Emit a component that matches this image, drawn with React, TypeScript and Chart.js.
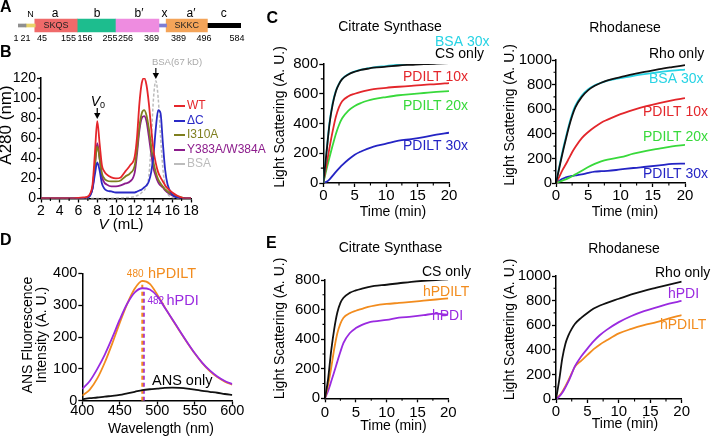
import React, { useEffect, useRef } from 'react';
import { Chart, registerables } from 'chart.js';

Chart.register(...registerables);

const W = 713;
const H = 436;
const FONT = '"Liberation Sans", Arial, Helvetica, sans-serif';

// ---------------- Panel A: domain map ----------------
const domainNames = ['signal', 'N', 'a', 'b', 'b′', 'x', 'a′', 'c'];
const domainStart = [1, 21, 45, 156, 256, 369, 389, 496];
const domainEnd = [21, 45, 155, 255, 369, 389, 496, 584];
const domainMotif = ['', '', 'SKQS', '', '', '', 'SKKC', ''];
const domainKind = ['thin', 'thin', 'box', 'box', 'box', 'thin', 'box', 'tail'];
const domainColors = ['#8f8f8f', '#e8d46a', '#ef6a6a', '#1dbd8e', '#ee8ce0', '#7d7dd4', '#f4a459', '#000000'];
const residueTicks = [1, 21, 45, 155, 156, 255, 256, 369, 389, 496, 584];
const residueLabelX = [16, 25.5, 42, 68.5, 85, 110, 125.5, 151.5, 178.5, 204, 237];

// ---------------- Panel B: gel filtration ----------------
const elutionVolume = [2, 3, 4, 5, 6, 6.5, 7, 7.25, 7.5, 7.75, 8, 8.25, 8.5, 8.75, 9, 9.5, 10, 10.5, 11, 11.5, 12, 12.25, 12.5, 12.75, 13, 13.25, 13.5, 13.75, 14, 14.25, 14.5, 14.75, 15, 15.25, 15.5, 16, 16.5, 17, 17.5, 18];
const wtA280 = [0, 0, 0, 0, 0.5, 1, 2, 5, 14, 45, 77, 55, 33, 27, 24, 21, 20, 21, 27, 33, 42, 62, 95, 115, 120, 113, 95, 70, 48, 35, 26, 21, 17, 13, 10, 6, 3, 1, 0, 0];
const dCA280 = [0, 0, 0, 0, 0, 0.5, 1, 3, 10, 24, 36, 28, 15, 10, 8, 7, 6, 6, 6, 6, 6, 7, 8, 9, 11, 13, 17, 26, 43, 70, 88, 85, 55, 28, 14, 4, 1, 0.5, 0, 0];
const i310aA280 = [0, 0, 0, 0, 0, 0.5, 1.5, 4, 11, 33, 52, 40, 25, 20, 18, 17, 17, 18, 22, 25, 33, 50, 72, 85, 88, 83, 70, 52, 36, 26, 19, 15, 12, 9, 7, 4, 2, 1, 0, 0];
const y383aA280 = [0, 0, 0, 0, 0, 0.5, 1.5, 4, 10, 33, 55, 40, 22, 16, 14, 12, 12, 13, 15, 17, 26, 45, 68, 80, 82, 77, 62, 45, 30, 22, 16, 13, 11, 8, 6, 3, 1.5, 0.5, 0, 0];
const bsaA280 = [0, 0, 0, 0, 0, 0, 0, 0, 0, 0, 0, 0, 0, 0, 0, 0.2, 0.3, 0.5, 0.8, 1.2, 2, 3, 4, 6, 8, 12, 22, 55, 100, 117, 100, 62, 30, 12, 5, 1, 0.3, 0, 0, 0];
const bLegend = ['WT', 'ΔC', 'I310A', 'Y383A/W384A', 'BSA'];
const bColors = ['#e5262b', '#2a2ac6', '#7f7f1f', '#8c1c8c', '#bcbcbc'];
const voidVolume = 8;
const bsaPeakVolume = 14.25;

// ---------------- Panels C & E: aggregation kinetics ----------------
const timeMin = [0, 0.5, 1, 1.5, 2, 2.5, 3, 4, 5, 6, 7, 8, 10, 12, 14, 16, 18, 20];
const csOnlyC = [0, 200, 400, 530, 615, 665, 698, 730, 748, 760, 768, 775, 782, 790, 795, 800, 803, 806];
const csBsa30C = [0, 205, 410, 540, 620, 668, 700, 733, 750, 762, 771, 778, 786, 795, 801, 806, 810, 814];
const csPdilt10 = [0, 120, 240, 350, 445, 510, 550, 583, 600, 613, 623, 631, 640, 647, 653, 660, 665, 672];
const csPdilt20 = [0, 90, 175, 255, 330, 390, 435, 487, 518, 538, 553, 564, 578, 590, 598, 605, 612, 618];
const csPdilt30 = [0, 8, 25, 50, 75, 98, 120, 158, 190, 212, 230, 245, 265, 285, 295, 308, 325, 338];

const rhoOnlyC = [0, 120, 240, 350, 455, 545, 615, 700, 755, 790, 815, 835, 860, 885, 905, 925, 942, 958];
const rhoBsa30C = [0, 130, 255, 365, 470, 560, 628, 710, 762, 795, 815, 832, 852, 872, 888, 902, 913, 922];
const rhoPdilt10 = [0, 50, 105, 150, 200, 250, 293, 365, 415, 455, 490, 515, 560, 595, 625, 650, 672, 690];
const rhoPdilt20 = [0, 10, 20, 30, 42, 55, 70, 100, 130, 155, 175, 190, 210, 238, 262, 280, 297, 310];
const rhoPdilt30 = [0, 18, 35, 45, 52, 58, 62, 70, 82, 92, 96, 98, 110, 122, 132, 143, 155, 158];

const csOnlyE = [0, 130, 320, 470, 580, 645, 680, 713, 730, 742, 752, 760, 768, 778, 788, 795, 800, 805];
const csHpdiltE = [0, 90, 205, 335, 440, 505, 545, 575, 592, 605, 618, 627, 638, 645, 652, 660, 668, 676];
const csHpdiE = [0, 50, 113, 180, 248, 315, 375, 440, 475, 497, 512, 520, 530, 545, 552, 562, 573, 565];

const rhoOnlyE = [0, 150, 330, 450, 520, 570, 610, 660, 700, 735, 760, 780, 815, 850, 880, 905, 930, 955];
const rhoHpdiE = [0, 20, 50, 95, 145, 205, 265, 345, 410, 470, 520, 560, 625, 675, 715, 745, 775, 797];
const rhoHpdiltE = [0, 25, 60, 105, 155, 210, 263, 310, 358, 405, 444, 475, 534, 570, 600, 625, 655, 682];

// ---------------- Panel D: ANS fluorescence ----------------
const wavelengthNm = [400, 410, 420, 430, 440, 450, 460, 470, 480, 490, 500, 510, 520, 530, 540, 550, 560, 570, 580, 590, 600];
const ansHpdilt = [16, 35, 70, 120, 180, 245, 305, 352, 376, 367, 333, 293, 255, 218, 182, 148, 118, 93, 74, 60, 50];
const ansHpdi = [37, 62, 100, 145, 198, 255, 305, 340, 353, 349, 328, 292, 256, 219, 183, 149, 119, 95, 76, 62, 52];
const ansOnly = [5, 8, 10, 13, 15, 18, 23, 28, 33, 36, 38, 40, 41, 40, 38, 35, 31, 28, 25, 21, 18];
const hpdiltPeakNm = 480;
const hpdiPeakNm = 482;

// ---------------- colours ----------------
const CYAN = '#27d3e4';
const RED = '#e3262b';
const GREEN = '#38d93b';
const BLUE = '#2424c4';
const ORANGE = '#f28c1e';
const PURPLE = '#9a2ae0';

// ---------------- helpers ----------------
type Txt = { t: string; x?: number; xv?: number; y: number; c?: string; s?: number; b?: boolean; i?: boolean; a?: string; r?: boolean };

function textLayer(items: Txt[]) {
  return {
    id: 'textLayer',
    afterDraw(chart: any) {
      const ctx = chart.ctx;
      for (const it of items) {
        ctx.save();
        ctx.font = `${it.i ? 'italic ' : ''}${it.b ? 'bold ' : ''}${it.s ?? 14}px ${FONT}`;
        ctx.fillStyle = it.c ?? '#000';
        ctx.textAlign = (it.a ?? 'center') as CanvasTextAlign;
        ctx.textBaseline = 'middle';
        const x = it.xv !== undefined ? chart.scales.x.getPixelForValue(it.xv) : (it.x as number);
        if (it.r) {
          ctx.translate(x, it.y);
          ctx.rotate(-Math.PI / 2);
          ctx.fillText(it.t, 0, 0);
        } else {
          ctx.fillText(it.t, x, it.y);
        }
        ctx.restore();
      }
    },
  };
}

function minorLayer(xs: number[], ys: number[]) {
  return {
    id: 'minorLayer',
    afterDraw(chart: any) {
      const { ctx, chartArea, scales } = chart;
      ctx.save();
      ctx.strokeStyle = '#000';
      ctx.lineWidth = 1.1;
      ctx.beginPath();
      for (const v of xs) {
        const px = scales.x.getPixelForValue(v);
        ctx.moveTo(px, chartArea.bottom);
        ctx.lineTo(px, chartArea.bottom + 2.5);
      }
      for (const v of ys) {
        const py = scales.y.getPixelForValue(v);
        ctx.moveTo(chartArea.left, py);
        ctx.lineTo(chartArea.left - 2.5, py);
      }
      ctx.stroke();
      ctx.restore();
    },
  };
}

function arrowDown(ctx: any, x: number, yTop: number, yTip: number) {
  ctx.strokeStyle = '#000';
  ctx.fillStyle = '#000';
  ctx.lineWidth = 1.2;
  ctx.beginPath();
  ctx.moveTo(x, yTop);
  ctx.lineTo(x, yTip - 5);
  ctx.stroke();
  ctx.beginPath();
  ctx.moveTo(x - 3.2, yTip - 6);
  ctx.lineTo(x + 3.2, yTip - 6);
  ctx.lineTo(x, yTip);
  ctx.closePath();
  ctx.fill();
}

function bExtras() {
  const legendY = [106, 121, 135, 150, 164];
  return {
    id: 'bExtras',
    afterDraw(chart: any) {
      const { ctx } = chart;
      const xs = chart.scales.x;
      ctx.save();
      arrowDown(ctx, xs.getPixelForValue(voidVolume), 108, 119);
      arrowDown(ctx, xs.getPixelForValue(bsaPeakVolume), 68, 79);
      bLegend.forEach((_, i) => {
        ctx.strokeStyle = bColors[i];
        ctx.lineWidth = 2;
        ctx.beginPath();
        ctx.moveTo(174, legendY[i]);
        ctx.lineTo(185, legendY[i]);
        ctx.stroke();
      });
      ctx.restore();
    },
  };
}

function pad(l: number, t: number, r: number, b: number, yw: number, xh: number) {
  return { left: l - yw, top: t, right: W - r, bottom: H - b - xh };
}

function linAxes(x: number[], y: number[], fs: number, xpad: number, ypad: number, yw: number, xh: number) {
  const mk = (min: number, max: number, step: number, p: number, fit: any) => ({
    type: 'linear',
    min,
    max,
    ticks: {
      stepSize: step,
      autoSkip: false,
      maxRotation: 0,
      padding: p,
      color: '#000',
      font: { family: FONT, size: fs },
      callback: (v: any) => String(v),
    },
    grid: { display: true, drawOnChartArea: false, drawTicks: true, tickLength: 4, tickWidth: 1.3, color: '#000' },
    border: { display: true, color: '#000', width: 1.5 },
    afterFit: fit,
  });
  return {
    x: mk(x[0], x[1], x[2], xpad, (s: any) => { s.height = xh; }),
    y: mk(y[0], y[1], y[2], ypad, (s: any) => { s.width = yw; }),
  };
}

function series(xs: number[], ys: number[]) {
  return xs.map((x, i) => ({ x, y: ys[i] }));
}

function line(label: string, xs: number[], ys: number[], color: string, extra: any = {}) {
  return {
    label,
    data: series(xs, ys),
    borderColor: color,
    backgroundColor: color,
    borderWidth: 1.8,
    pointRadius: 0,
    cubicInterpolationMode: 'monotone',
    fill: false,
    ...extra,
  };
}

function lineConfig(datasets: any[], padding: any, scales: any, plugins: any[]) {
  return {
    type: 'line',
    data: { datasets },
    options: {
      animation: false,
      responsive: false,
      events: [],
      layout: { padding },
      scales,
      plugins: { legend: { display: false }, tooltip: { enabled: false } },
    },
    plugins,
  };
}

const kindThickness: Record<string, number> = { thin: 3, box: 13, tail: 4.5 };

function buildConfigs() {
  // ---------- A ----------
  const aTexts: Txt[] = [
    { t: 'A', x: 0, y: 8, b: true, s: 16, a: 'left' },
    { t: 'N', x: 30.5, y: 14.5, s: 9 },
    { t: 'a', x: 55, y: 13.5, s: 12 },
    { t: 'b', x: 97, y: 13.5, s: 12 },
    { t: 'b′', x: 139, y: 13.5, s: 12 },
    { t: 'x', x: 164.5, y: 13.5, s: 12 },
    { t: 'a′', x: 191, y: 13.5, s: 12 },
    { t: 'c', x: 223.7, y: 13.5, s: 12 },
  ];
  domainMotif.forEach((m, i) => {
    if (m) aTexts.push({ t: m, xv: (domainStart[i] + domainEnd[i]) / 2, y: 25.8, s: 9, c: '#222' });
  });
  residueTicks.forEach((r, i) => {
    aTexts.push({ t: String(r), x: residueLabelX[i], y: 38.5, s: 9 });
  });
  const aConfig = {
    type: 'bar',
    data: {
      labels: ['hPDILT'],
      datasets: domainStart.map((s, i) => ({
        label: domainNames[i],
        data: [[s - 0.5, domainEnd[i] + 0.5]],
        backgroundColor: domainColors[i],
        barThickness: kindThickness[domainKind[i]],
        grouped: false,
        borderWidth: 0,
        borderSkipped: false,
      })),
    },
    options: {
      indexAxis: 'y',
      animation: false,
      responsive: false,
      events: [],
      layout: { padding: { left: 18, right: W - 241, top: 15, bottom: H - 36 } },
      scales: { x: { type: 'linear', min: 0.5, max: 584.5, display: false }, y: { type: 'category', display: false } },
      plugins: { legend: { display: false }, tooltip: { enabled: false } },
    },
    plugins: [textLayer(aTexts)],
  };

  // ---------- B ----------
  const bTexts: Txt[] = [
    { t: 'B', x: 0, y: 52.5, b: true, s: 16, a: 'left' },
    { t: 'A280 (nm)', x: 6.5, y: 125, r: true, s: 17 },
    { t: 'V', x: 108.5, y: 225, s: 15, i: true, a: 'right' },
    { t: ' (mL)', x: 108.5, y: 225, s: 15, a: 'left' },
    { t: 'V', x: 95.5, y: 102, s: 14, i: true },
    { t: '0', x: 100, y: 106, s: 9, a: 'left' },
    { t: 'BSA(67 kD)', x: 177, y: 62, s: 9.5, c: '#a9a9a9' },
  ];
  bLegend.forEach((n, i) => bTexts.push({ t: n, x: 187, y: [106, 121, 135, 150, 164][i], s: 12, c: bColors[i], a: 'left' }));
  const bConfig = lineConfig(
    [
      line('WT', elutionVolume, wtA280, bColors[0]),
      line('ΔC', elutionVolume, dCA280, bColors[1]),
      line('I310A', elutionVolume, i310aA280, bColors[2]),
      line('Y383A/W384A', elutionVolume, y383aA280, bColors[3]),
      line('BSA', elutionVolume, bsaA280, bColors[4], { borderDash: [3, 2], borderWidth: 1.5 }),
    ],
    pad(41, 78, 191, 198.5, 40, 28),
    linAxes([2, 18, 2], [0, 120, 20], 14, 0, 1, 40, 28),
    [textLayer(bTexts), minorLayer([3, 5, 7, 9, 11, 13, 15, 17], [10, 30, 50, 70, 90, 110]), bExtras()],
  );

  // ---------- C left ----------
  const c1Texts: Txt[] = [
    { t: 'C', x: 266.5, y: 19, b: true, s: 16, a: 'left' },
    { t: 'Citrate Synthase', x: 390, y: 27.5, s: 14 },
    { t: 'Light Scattering (A. U.)', x: 280, y: 117, r: true, s: 14 },
    { t: 'Time (min)', x: 393, y: 212, s: 14 },
    { t: 'BSA 30x', x: 435, y: 42.5, s: 14, c: CYAN, a: 'left' },
    { t: 'CS only', x: 435, y: 54.5, s: 14, a: 'left' },
    { t: 'PDILT 10x', x: 403, y: 77.5, s: 14, c: RED, a: 'left' },
    { t: 'PDILT 20x', x: 403, y: 106, s: 14, c: GREEN, a: 'left' },
    { t: 'PDILT 30x', x: 403, y: 146, s: 14, c: BLUE, a: 'left' },
  ];
  const c1Config = lineConfig(
    [
      line('CS only', timeMin, csOnlyC, '#111'),
      line('BSA 30x', timeMin, csBsa30C, CYAN),
      line('PDILT 10x', timeMin, csPdilt10, RED),
      line('PDILT 20x', timeMin, csPdilt20, GREEN),
      line('PDILT 30x', timeMin, csPdilt30, BLUE),
    ],
    pad(323.3, 64, 449, 183, 40, 28),
    linAxes([0, 20, 5], [0, 800, 200], 15, 0, 1, 40, 28),
    [textLayer(c1Texts), minorLayer([2.5, 7.5, 12.5, 17.5], [100, 300, 500, 700])],
  );

  // ---------- C right ----------
  const c2Texts: Txt[] = [
    { t: 'Rhodanese', x: 625, y: 28, s: 14 },
    { t: 'Light Scattering (A. U.)', x: 510, y: 115, r: true, s: 14 },
    { t: 'Time (min)', x: 625, y: 212, s: 14 },
    { t: 'Rho only', x: 649, y: 54, s: 14, a: 'left' },
    { t: 'BSA 30x', x: 649, y: 79.5, s: 14, c: CYAN, a: 'left' },
    { t: 'PDILT 10x', x: 643, y: 112.5, s: 14, c: RED, a: 'left' },
    { t: 'PDILT 20x', x: 643, y: 137.5, s: 14, c: GREEN, a: 'left' },
    { t: 'PDILT 30x', x: 643, y: 174, s: 14, c: BLUE, a: 'left' },
  ];
  const c2Config = lineConfig(
    [
      line('Rho only', timeMin, rhoOnlyC, '#111'),
      line('BSA 30x', timeMin, rhoBsa30C, CYAN),
      line('PDILT 10x', timeMin, rhoPdilt10, RED),
      line('PDILT 20x', timeMin, rhoPdilt20, GREEN),
      line('PDILT 30x', timeMin, rhoPdilt30, BLUE),
    ],
    pad(556, 60, 685, 183, 40, 28),
    linAxes([0, 20, 5], [0, 1000, 200], 15, 0, 0, 40, 28),
    [textLayer(c2Texts), minorLayer([2.5, 7.5, 12.5, 17.5], [100, 300, 500, 700, 900])],
  );

  // ---------- D ----------
  const dTexts: Txt[] = [
    { t: 'D', x: 0, y: 241, b: true, s: 16, a: 'left' },
    { t: 'ANS Fluorescence', x: 28, y: 335, r: true, s: 14 },
    { t: 'Intensity (A. U.)', x: 42.5, y: 335, r: true, s: 14 },
    { t: 'Wavelength (nm)', x: 161, y: 429, s: 14 },
    { t: String(hpdiltPeakNm), x: 143.5, y: 274, s: 10, c: ORANGE, a: 'right' },
    { t: 'hPDILT', x: 148, y: 273.5, s: 14.5, c: ORANGE, a: 'left' },
    { t: String(hpdiPeakNm), x: 147.5, y: 301, s: 10, c: PURPLE, a: 'left' },
    { t: 'hPDI', x: 166.5, y: 301, s: 14.5, c: PURPLE, a: 'left' },
    { t: 'ANS only', x: 152, y: 381, s: 14.5, a: 'left' },
  ];
  const dConfig = lineConfig(
    [
      line('hPDI', wavelengthNm, ansHpdi, PURPLE),
      line('hPDILT', wavelengthNm, ansHpdilt, ORANGE),
      line('ANS only', wavelengthNm, ansOnly, '#111'),
      line('hPDILT max', [hpdiltPeakNm, hpdiltPeakNm], [0, Math.max(...ansHpdilt)], ORANGE, { borderDash: [4, 3], borderWidth: 2, cubicInterpolationMode: 'default' }),
      line('hPDI max', [hpdiPeakNm, hpdiPeakNm], [0, Math.max(...ansHpdi)], PURPLE, { borderDash: [4, 3], borderWidth: 2, cubicInterpolationMode: 'default' }),
    ],
    pad(82.3, 273.3, 232.3, 400.7, 40, 28),
    linAxes([400, 600, 50], [0, 400, 100], 14.5, -2.5, 1, 40, 28),
    [textLayer(dTexts)],
  );

  // ---------- E left ----------
  const e1Texts: Txt[] = [
    { t: 'E', x: 266, y: 244, b: true, s: 16, a: 'left' },
    { t: 'Citrate Synthase', x: 390.5, y: 248.5, s: 14 },
    { t: 'Light Scattering (A. U.)', x: 280, y: 328.5, r: true, s: 14 },
    { t: 'Time (min)', x: 393.5, y: 426, s: 14 },
    { t: 'CS only', x: 422, y: 271.7, s: 14, a: 'left' },
    { t: 'hPDILT', x: 423, y: 292, s: 14, c: ORANGE, a: 'left' },
    { t: 'hPDI', x: 432, y: 316, s: 14, c: PURPLE, a: 'left' },
  ];
  const e1Config = lineConfig(
    [
      line('CS only', timeMin, csOnlyE, '#111'),
      line('hPDILT', timeMin, csHpdiltE, ORANGE),
      line('hPDI', timeMin, csHpdiE, PURPLE),
    ],
    pad(325, 280, 448.3, 398.3, 40, 28),
    linAxes([0, 20, 5], [0, 800, 200], 15, 2, 1, 40, 28),
    [textLayer(e1Texts), minorLayer([2.5, 7.5, 12.5, 17.5], [100, 300, 500, 700])],
  );

  // ---------- E right ----------
  const e2Texts: Txt[] = [
    { t: 'Rhodanese', x: 624, y: 249, s: 14 },
    { t: 'Light Scattering (A. U.)', x: 510, y: 329.5, r: true, s: 14 },
    { t: 'Time (min)', x: 625, y: 424, s: 14 },
    { t: 'Rho only', x: 655, y: 273.3, s: 14, a: 'left' },
    { t: 'hPDI', x: 668, y: 294.5, s: 14, c: PURPLE, a: 'left' },
    { t: 'hPDILT', x: 660, y: 325.5, s: 14, c: ORANGE, a: 'left' },
  ];
  const e2Config = lineConfig(
    [
      line('Rho only', timeMin, rhoOnlyE, '#111'),
      line('hPDI', timeMin, rhoHpdiE, PURPLE),
      line('hPDILT', timeMin, rhoHpdiltE, ORANGE),
    ],
    pad(556, 276, 681.7, 399, 40, 28),
    linAxes([0, 20, 5], [0, 1000, 200], 15, 0, 1, 40, 28),
    [textLayer(e2Texts), minorLayer([2.5, 7.5, 12.5, 17.5], [100, 300, 500, 700, 900])],
  );

  return [aConfig, bConfig, c1Config, c2Config, dConfig, e1Config, e2Config];
}

export default function App() {
  const refs = useRef<(HTMLCanvasElement | null)[]>([]);

  useEffect(() => {
    const configs = buildConfigs();
    const charts = configs.map((cfg, i) => new Chart(refs.current[i] as HTMLCanvasElement, cfg as any));
    return () => {
      charts.forEach((c) => c.destroy());
    };
  }, []);

  return (
    <div style={{ position: 'fixed', left: 0, top: 0, width: W, height: H, background: '#fff', overflow: 'hidden' }}>
      {Array.from({ length: 7 }).map((_, i) => (
        <canvas
          key={i}
          ref={(el) => { refs.current[i] = el; }}
          width={W}
          height={H}
          style={{ position: 'absolute', left: 0, top: 0, width: W, height: H }}
        />
      ))}
    </div>
  );
}
